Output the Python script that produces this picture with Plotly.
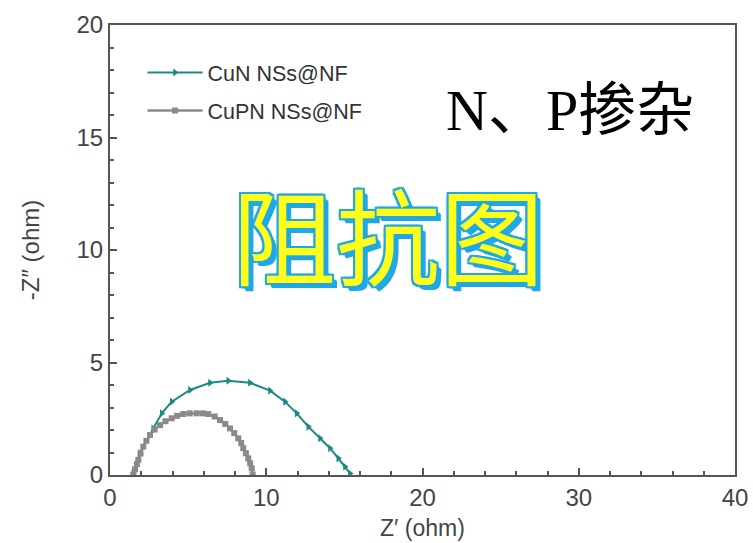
import plotly.graph_objects as go

# CuN NSs@NF
cun_x = [1.49, 1.92, 2.77, 3.31, 3.95, 5.12, 6.40, 7.57, 8.96, 10.24, 11.20, 11.95, 12.69, 13.44, 14.08, 14.61, 15.04, 15.36]
cun_y = [0.07, 0.97, 2.07, 2.74, 3.26, 3.78, 4.10, 4.19, 4.10, 3.75, 3.26, 2.74, 2.15, 1.63, 1.19, 0.74, 0.37, 0.07]

# CuPN NSs@NF
cupn_x = [1.49, 1.60, 1.72, 1.81, 1.95, 2.13, 2.33, 2.56, 2.85, 3.20, 3.55, 3.95, 4.30, 4.69, 5.10, 5.55, 5.95, 6.29, 6.70, 7.04, 7.38, 7.68, 7.95, 8.21, 8.40, 8.53, 8.70, 8.85, 8.97, 9.07, 9.13]
cupn_y = [0.00, 0.25, 0.48, 0.67, 0.95, 1.26, 1.52, 1.78, 2.02, 2.22, 2.39, 2.52, 2.63, 2.71, 2.74, 2.74, 2.74, 2.71, 2.60, 2.44, 2.27, 2.07, 1.86, 1.63, 1.42, 1.19, 0.97, 0.74, 0.52, 0.30, 0.02]

x_ticks = [0, 10, 20, 30, 40]
y_ticks = [0, 5, 10, 15, 20]

teal = "#1b8a80"
gray = "#8a8a8a"
axis_col = "#555555"
font_fam = "Liberation Sans, Arial"

fig = go.Figure()
fig.add_trace(go.Scatter(x=cun_x, y=cun_y, mode="lines+markers", name="CuN NSs@NF",
                         legendgroup="a",
                         line=dict(color=teal, width=2),
                         marker=dict(symbol="triangle-right", size=7, color=teal)))
fig.add_trace(go.Scatter(x=cupn_x, y=cupn_y, mode="lines+markers", name="CuPN NSs@NF",
                         legendgroup="b",
                         line=dict(color=gray, width=2.5),
                         marker=dict(symbol="square", size=6, color=gray)))

axis_common = dict(showline=True, linecolor=axis_col, linewidth=2, mirror=True,
                   ticks="inside", ticklen=7, tickwidth=2, tickcolor=axis_col,
                   showgrid=False, zeroline=False, automargin=False,
                   tickfont=dict(family=font_fam, size=24, color="#444444"),
                   minor=dict(ticks="inside", ticklen=4, tickwidth=2, tickcolor=axis_col, showgrid=False))

fig.update_xaxes(range=[0, 40], tickvals=x_ticks, **axis_common)
fig.update_yaxes(range=[0, 20], tickvals=y_ticks, **axis_common,
                 title=dict(text="-Z″ (ohm)", font=dict(family=font_fam, size=24, color="#444444"), standoff=30))

fig.update_layout(
    width=753, height=543,
    margin=dict(l=110, r=18, t=25, b=68),
    paper_bgcolor="white", plot_bgcolor="white",
    legend=dict(x=0.052, y=0.94, xanchor="left", yanchor="top",
                bgcolor="rgba(0,0,0,0)", tracegroupgap=7, itemwidth=55,
                traceorder="grouped",
                font=dict(family=font_fam, size=21.5, color="#333333")),
    showlegend=True,
)

# x-axis title
fig.add_annotation(xref="paper", yref="paper", x=0.5, y=-0.118, xanchor="center", yanchor="middle",
                   text="Z′ (ohm)", showarrow=False,
                   font=dict(family=font_fam, size=23, color="#444444"))

fig.add_annotation(xref="paper", yref="paper", x=0.535, y=0.81, xanchor="left", yanchor="middle",
                   text="N、P掺杂", showarrow=False,
                   font=dict(family="Liberation Serif, Noto Sans CJK SC", size=58, color="black"))

shadow = ", ".join([
    "2px 0 0 #1ea8e8", "-2px 0 0 #1ea8e8", "0 2px 0 #1ea8e8", "0 -2px 0 #1ea8e8",
    "2px 2px 0 #1ea8e8", "-2px -2px 0 #1ea8e8", "2px -2px 0 #1ea8e8", "-2px 2px 0 #1ea8e8",
    "4px 4px 0 #1ea8e8", "5px 5px 0 #1ea8e8"])
fig.add_annotation(xref="paper", yref="paper", x=0.445, y=0.538, xanchor="center", yanchor="middle",
                   text="阻抗图", showarrow=False,
                   font=dict(family="Noto Sans CJK SC", size=104, color="#ffff1a", shadow=shadow))

fig.write_html("out.html")
